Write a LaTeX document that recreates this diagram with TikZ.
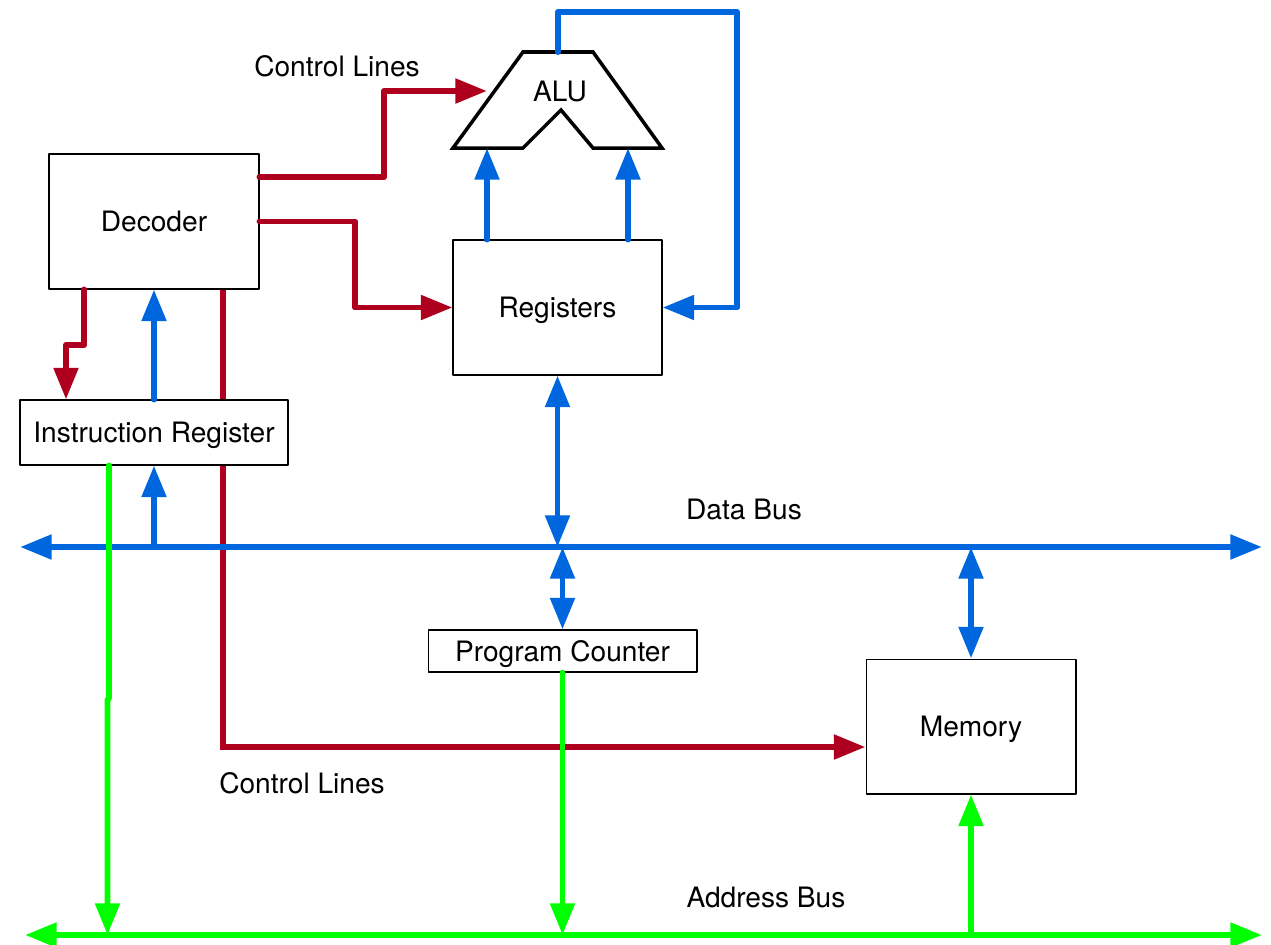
\documentclass[tikz,border=0pt]{standalone}
\usepackage{fontspec}
\setmainfont{TeX Gyre Heros}
\usetikzlibrary{arrows.meta, backgrounds}

\definecolor{ctrlred}{RGB}{174,0,30}
\definecolor{databl}{RGB}{0,102,221}
\definecolor{addrgr}{RGB}{0,255,0}

\begin{document}
\begin{tikzpicture}[x=0.02cm, y=-0.02cm, line cap=round, line join=round,
    >={Triangle[length=18pt, width=13.5pt]},
    unit/.style={draw, fill=white, line width=0.6pt, inner sep=0pt, text depth=0pt,
      font=\fontsize{16}{19}\selectfont},
    lbl/.style={font=\fontsize{16}{19}\selectfont},
    ctrl/.style={ctrlred, line width=3.4pt},
    data/.style={databl, line width=3.4pt},
    addr/.style={addrgr, line width=3.4pt}]
  \useasboundingbox (0,0) rectangle (1271,944);

  % Units
  \node[unit, minimum width=4.2cm, minimum height=2.7cm] (dec) at (154,221.5) {Decoder};
  \node[unit, minimum width=5.36cm, minimum height=1.3cm] (ir) at (154,432.5) {Instruction Register};
  \node[unit, minimum width=4.18cm, minimum height=2.7cm] (reg) at (557.5,307.5) {Registers};
  \node[unit, minimum width=5.38cm, minimum height=0.84cm] (pc) at (562.5,651) {Program Counter};
  \node[unit, minimum width=4.2cm, minimum height=2.7cm] (mem) at (971,726.5) {Memory};

  % ALU outline
  \coordinate (aluA) at (453,148);
  \coordinate (aluB) at (523,148);
  \coordinate (aluC) at (561,110);
  \coordinate (aluD) at (593,148);
  \coordinate (aluE) at (662,148);
  \coordinate (aluF) at (593,52);
  \coordinate (aluG) at (523,52);
  \draw[line width=2pt, line join=miter]
    (aluA) -- (aluB) -- (aluC) -- (aluD) -- (aluE) -- (aluF) -- (aluG) -- cycle;
  \node[lbl] (alu) at (560,92) {ALU};

  % Control line to memory runs behind the boxes and the data bus
  \begin{pgfonlayer}{background}
    \draw[ctrl,->] (dec.south -| 223,0) |- (mem.west |- 0,747);
  \end{pgfonlayer}

  % Buses
  \coordinate (dbL) at (20,547);
  \coordinate (dbR) at (1262,547);
  \coordinate (abL) at (25,935);
  \coordinate (abR) at (1262,935);
  \draw[data,<->] (dbL) -- (dbR);
  \draw[addr,<->] (abL) -- (abR);

  % Data paths
  \draw[data,->] (ir.south |- dbL) -- (ir.south);
  \draw[data,->] (ir.north) -- (dec.south);
  \draw[data,<->] (reg.south) -- (reg.south |- dbL);
  \draw[data,<->] (pc.north |- dbL) -- (pc.north);
  \draw[data,<->] (mem.north |- dbL) -- (mem.north);
  \draw[data,->] (reg.north -| 487,0) -- (aluA -| 487,0);
  \draw[data,->] (reg.north -| 628,0) -- (aluE -| 628,0);
  \draw[data,->] (558,52) |- (737,12) |- (reg.east);

  % Control lines
  \draw[ctrl,->] (dec.east |- 0,177) -| (384,91) -- (487,91);
  \draw[ctrl,->] (dec.east) -| (355,307.5) -- (reg.west);
  \draw[ctrl,->] (dec.south -| 84,0) |- (66,345) -- (ir.north -| 66,0);

  % Address paths
  \draw[addr,->] (ir.south -| 109,0) -- (109,698) -- (107.5,700) -- (abL -| 107.5,0);
  \draw[addr,->] (pc.south) -- (pc.south |- abL);
  \draw[addr,->] (mem.south |- abL) -- (mem.south);

  % Labels
  \node[lbl] (ctlA) at (337,66) {Control Lines};
  \node[lbl] (ctlB) at (302,783) {Control Lines};
  \node[lbl] (dbus) at (744,509) {Data Bus};
  \node[lbl] (abus) at (766,897) {Address Bus};
\end{tikzpicture}
\end{document}
